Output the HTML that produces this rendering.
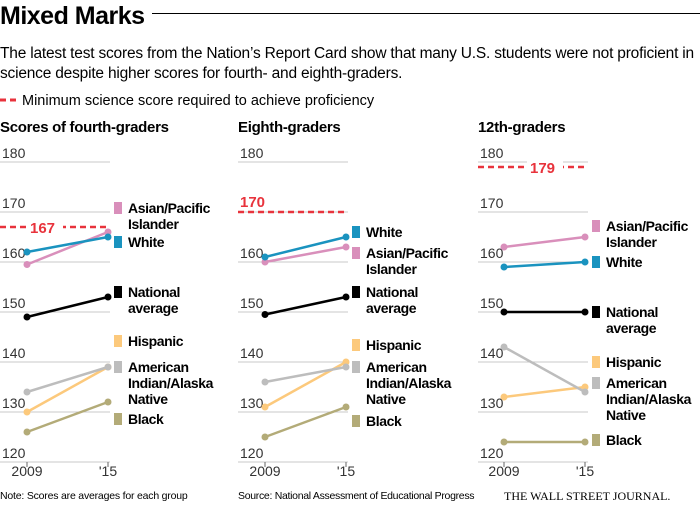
<!DOCTYPE html>
<html><head><meta charset="utf-8"><style>
body{margin:0;background:#fff;font-family:"Liberation Sans",sans-serif;}
#wrap{position:relative;width:700px;height:505px;overflow:hidden}
.t{position:absolute;white-space:nowrap}
</style></head><body>
<div id="wrap">
<div class="t" style="left:0;top:2px;font-size:25px;font-weight:bold;letter-spacing:-0.5px">Mixed Marks</div>
<div style="position:absolute;left:152px;top:13px;width:548px;height:1px;background:#000"></div>
<div class="t" style="left:0;top:44px;font-size:15.5px;line-height:20px;white-space:normal;width:700px;letter-spacing:-0.2px">The latest test scores from the Nation’s Report Card show that many U.S. students were not proficient in science despite higher scores for fourth- and eighth-graders.</div>
<svg id="svg" width="700" height="505" style="position:absolute;left:0;top:0"></svg>
<div class="t" style="left:0;top:490px;font-size:10.5px;letter-spacing:-0.2px">Note: Scores are averages for each group</div>
<div class="t" style="left:238px;top:490px;font-size:10.5px;letter-spacing:-0.3px">Source: National Assessment of Educational Progress</div>
<div class="t" style="left:504px;top:489px;font-size:12px;font-family:'Liberation Serif',serif">THE WALL STREET JOURNAL.</div>
</div>
<script>
const groups=["Asian/Pacific Islander","White","National average","Hispanic","American Indian/Alaska Native","Black"];
const colors=["#d98fbb","#1a93bf","#000000","#fcc97c","#bdbdbd","#b3ab78"];
const yTicks=[180,170,160,150,140,130,120];
const xLabels=["2009","'15"];
const titles=["Scores of fourth-graders","Eighth-graders","12th-graders"];
const proficiency=[167,170,179];
const grade4=[[159.5,166],[162,165],[149,153],[130,139],[134,139],[126,132]];
const grade8=[[160,163],[161,165],[149.5,153],[131,140],[136,139],[125,131]];
const grade12=[[163,165],[159,160],[150,150],[133,135],[143,134],[124,124]];
const data=[grade4,grade8,grade12];
const svg=document.getElementById('svg');const NS="http://www.w3.org/2000/svg";
function el(t,a,p){const e=document.createElementNS(NS,t);for(const k in a)e.setAttribute(k,a[k]);(p||svg).appendChild(e);return e;}
const y=v=>162+(180-v)*5;
let d=el('line',{x1:0,y1:100,x2:18,y2:100,stroke:'#e8333c','stroke-width':3,'stroke-dasharray':'6,4'});

let lt=el('text',{x:22,y:105,'font-size':14.5});lt.textContent='Minimum science score required to achieve proficiency';

const panels=[{g0:0,x0:27},{g0:238,x0:265},{g0:478,x0:504}];
const legPos=[
 [[213],[247],[297],[346],[372],[424]],
 [[258],[237],[297],[350],[372],[426]],
 [[231],[267],[317],[367],[388],[445]]];
const legLines=[["Asian/Pacific","Islander"],["White"],["National","average"],["Hispanic"],["American","Indian/Alaska","Native"],["Black"]];
panels.forEach((P,pi)=>{
 const g=el('g',{});
 const x=i=>P.x0+i*81;
 let t=el('text',{x:P.g0,y:132,'font-size':15,'font-weight':'bold','letter-spacing':'-0.3'},g);t.textContent=titles[pi];
 
 yTicks.forEach(v=>{
  let l=el('line',{x1:P.g0,x2:P.g0+110,y1:y(v),y2:y(v),stroke:'#c8c8c8','stroke-width':1},g);
  
  if(pi==1&&v==170)return;
  let tt=el('text',{x:P.g0+2,y:y(v)-4,'font-size':14,fill:'#333'},g);tt.textContent=v;
  
 });
 xLabels.forEach((s,i)=>{
  let k=el('line',{x1:x(i),x2:x(i),y1:y(120),y2:y(120)+5,stroke:'#666'},g);
  
  let tt=el('text',{x:x(i),y:476,'font-size':14,'text-anchor':'middle',fill:'#333'},g);tt.textContent=s;
  
 });
 const py=y(proficiency[pi]);
 let pl=el('line',{x1:pi==0?0:P.g0,x2:P.g0+110,y1:py,y2:py,stroke:'#e8333c','stroke-width':2.5,'stroke-dasharray':'6,4'},g);
 
 let lx=pi==0?P.g0+30:pi==1?P.g0+2:P.g0+52, ly=pi==1?py-5:py+6;
 if(pi!=1){el('rect',{x:lx-3,y:py-8,width:36,height:16,fill:'#fff'},g);}
 let pt=el('text',{x:lx,y:ly,'font-size':15,'font-weight':'bold',fill:'#e8333c'},g);pt.textContent=proficiency[pi];
 
 data[pi].forEach((s,si)=>{
  let ln=el('line',{x1:x(0),y1:y(s[0]),x2:x(1),y2:y(s[1]),stroke:colors[si],'stroke-width':2.5},g);
  
  s.forEach((v,i)=>{let c=el('circle',{cx:x(i),cy:y(v),r:3.5,fill:colors[si]},g);
   });
  const pos=legPos[pi][si];
  let r=el('rect',{x:P.g0+114,y:pos[0]-11,width:8,height:12,fill:colors[si]},g);
  
  legLines[si].forEach((w,wi)=>{let tt=el('text',{x:P.g0+128,y:pos[0]+wi*16,'font-size':14,'font-weight':'bold','letter-spacing':'-0.4'},g);tt.textContent=w;
   });
 });
});
</script>
</body></html>
